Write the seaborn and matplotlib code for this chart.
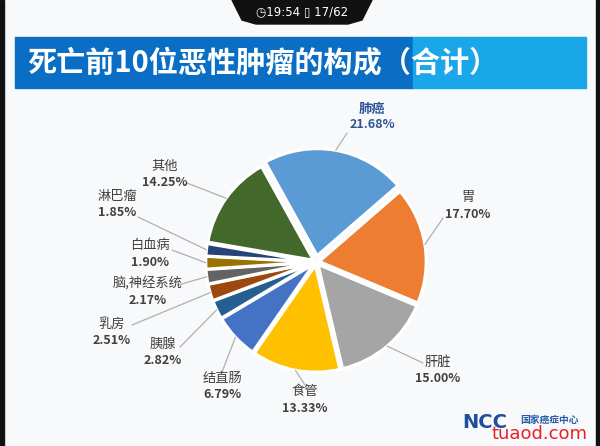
import numpy as np
import seaborn as sns
import matplotlib.pyplot as plt
from matplotlib.patches import Rectangle, Polygon

############## Data ##############################################
labels = ['肺癌', '胃', '肝脏', '食管', '结直肠', '胰腺', '乳房',
          '脑,神经系统', '白血病', '淋巴瘤', '其他']
values = [21.68, 17.70, 15.00, 13.33, 6.79, 2.82, 2.51, 2.17, 1.90, 1.85, 14.25]
colors = ['#5B9BD5', '#ED7D31', '#A5A5A5', '#FFC000', '#4472C4', '#255E91',
          '#9E480E', '#636363', '#997300', '#264478', '#43682B']
title = '死亡前10位恶性肿瘤的构成（合计）'

# label centres (pixels) and leader line start (pixels)
label_px = [(372, 117), (468, 206), (438, 370), (305, 400), (222, 386), (163, 352),
            (112, 332), (148, 292), (150, 254), (117, 204), (165, 174)]
line_px = [(347, 133), (443, 218), (423, 363), (305, 385), (222, 372), (180, 347),
           (132, 325), (178, 285), (172, 250), (138, 217), (187, 183)]

############## Figure ############################################
sns.set_theme(style='white')
plt.rcParams['font.family'] = ['Noto Sans CJK SC', 'DejaVu Sans']

W, H = 600, 446
fig = plt.figure(figsize=(6, 4.46), dpi=100)
fig.patch.set_facecolor('#F8F9FB')

R = 107.0            # pixels per data unit
cx, cy = 316, 262    # pie centre in pixels
ax = fig.add_axes([0, 0, 1, 1])
ax.axis('off')


def px(x, y):
    return (x - cx) / R, (cy - y) / R


explode = [0.06] + [0.03] * (len(values) - 1)
wedges, _ = ax.pie(values, colors=colors, startangle=119, counterclock=False,
                   explode=explode, radius=1.0,
                   wedgeprops=dict(edgecolor='white', linewidth=2.2))
ax.set_aspect('auto')
ax.set_xlim(-cx / R, (W - cx) / R)
ax.set_ylim(-(H - cy) / R, cy / R)

# labels and leader lines
for i, w in enumerate(wedges):
    mid = np.deg2rad((w.theta1 + w.theta2) / 2)
    off = explode[i]
    ex, ey = (1.0 + off) * np.cos(mid), (1.0 + off) * np.sin(mid)
    lx, ly = px(*line_px[i])
    ax.plot([lx, ex], [ly, ey], color='#B0B0B0', lw=0.9)
    tx, ty = label_px[i]
    name_col = '#2F5597' if i == 0 else '#404040'
    ax.text(*px(tx, ty - 8), labels[i], ha='center', va='center', fontsize=9.5,
            color=name_col, fontweight='bold' if i == 0 else 'normal')
    ax.text(*px(tx, ty + 8), f'{values[i]:.2f}%', ha='center', va='center',
            fontsize=9, color=name_col, fontweight='bold')

############## Slide decorations ################################
fig.patches.append(Rectangle((15 / W, 1 - 88 / H), (413 - 15) / W, 51 / H,
                             transform=fig.transFigure, color='#0A6EC4'))
fig.patches.append(Rectangle((413 / W, 1 - 88 / H), (586 - 413) / W, 51 / H,
                             transform=fig.transFigure, color='#1AA7EA'))
fig.text(27 / W, 1 - 62 / H, title, ha='left', va='center', fontsize=21,
         color='white', fontweight='bold')

# black side borders
fig.patches.append(Rectangle((0, 0), 4 / W, 1, transform=fig.transFigure, color='#111111'))
fig.patches.append(Rectangle((596 / W, 0), 4 / W, 1, transform=fig.transFigure, color='#111111'))

# top status notch
notch = [(232, 0), (372, 0), (362, 20), (348, 24), (256, 24), (242, 20)]
fig.patches.append(Polygon([(x / W, 1 - y / H) for x, y in notch], closed=True,
                           transform=fig.transFigure, color='#111111'))
fig.text(302 / W, 1 - 12 / H, '◷19:54 ▯ 17/62', ha='center', va='center',
         fontsize=8.5, color='white', family=['DejaVu Sans'])

# logo + watermark
fig.text(462 / W, 1 - 422 / H, 'NCC', ha='left', va='center', fontsize=14,
         color='#1F4E9A', fontweight='bold', family=['DejaVu Sans'])
fig.text(520 / W, 1 - 420 / H, '国家癌症中心', ha='left', va='center', fontsize=7,
         color='#2A5CAA', fontweight='bold')
fig.text(540 / W, 1 - 434 / H, 'tuaod.com', ha='center', va='center', fontsize=13,
         color='#E5222B', family=['DejaVu Sans'])

fig.savefig('out.png', dpi=100, facecolor=fig.get_facecolor())
